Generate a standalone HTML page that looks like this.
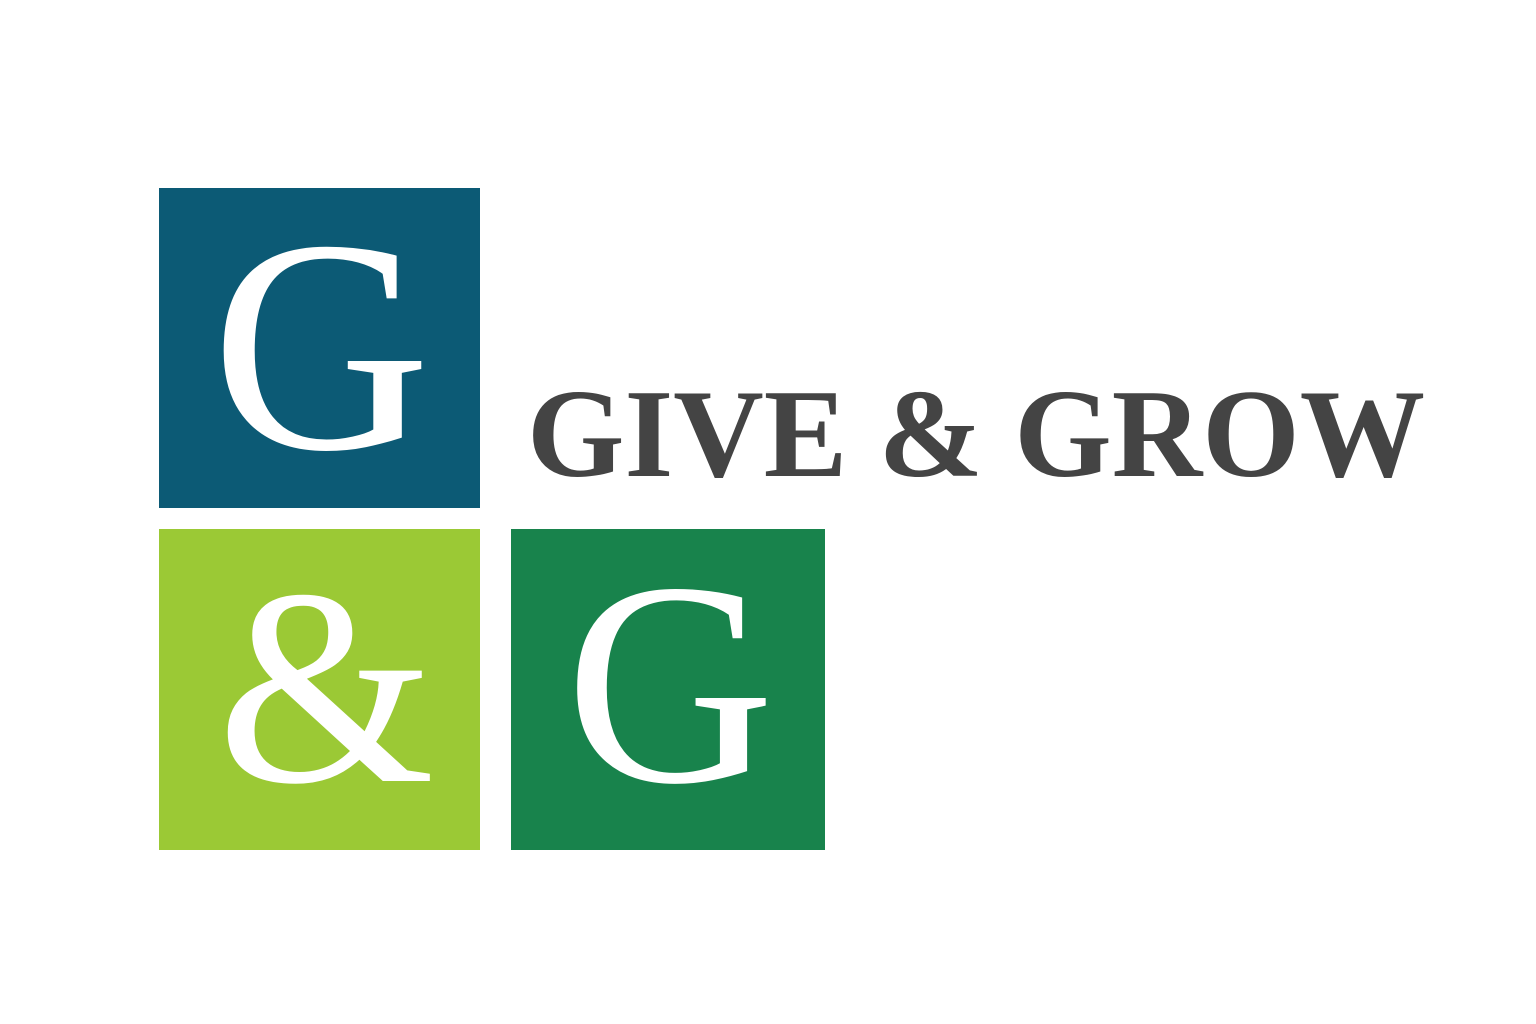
<!DOCTYPE html>
<html>
<head>
<meta charset="utf-8">
<style>
html,body{margin:0;padding:0;background:#fff;}
svg{display:block;}
</style>
</head>
<body>
<svg width="1536" height="1024" viewBox="0 0 1536 1024">
  <rect x="0" y="0" width="1536" height="1024" fill="#ffffff"/>
  <rect x="159" y="188" width="321" height="320" fill="#0c5a75"/>
  <text x="321" y="448" font-family="'Liberation Serif', serif" font-size="304" fill="#ffffff" text-anchor="middle">G</text>
  <rect x="159" y="529" width="321" height="321" fill="#9bc935"/>
  <text x="326" y="781" font-family="'Liberation Serif', serif" font-size="280" fill="#ffffff" text-anchor="middle">&amp;</text>
  <rect x="511" y="529" width="314" height="321" fill="#18834c"/>
  <text x="670" y="781" font-family="'Liberation Serif', serif" font-size="290" fill="#ffffff" text-anchor="middle">G</text>
  <text x="527" y="476" font-family="'Liberation Serif', serif" font-weight="bold" font-size="126" fill="#444444" textLength="898" lengthAdjust="spacingAndGlyphs">GIVE &amp; GROW</text>
</svg>
</body>
</html>
